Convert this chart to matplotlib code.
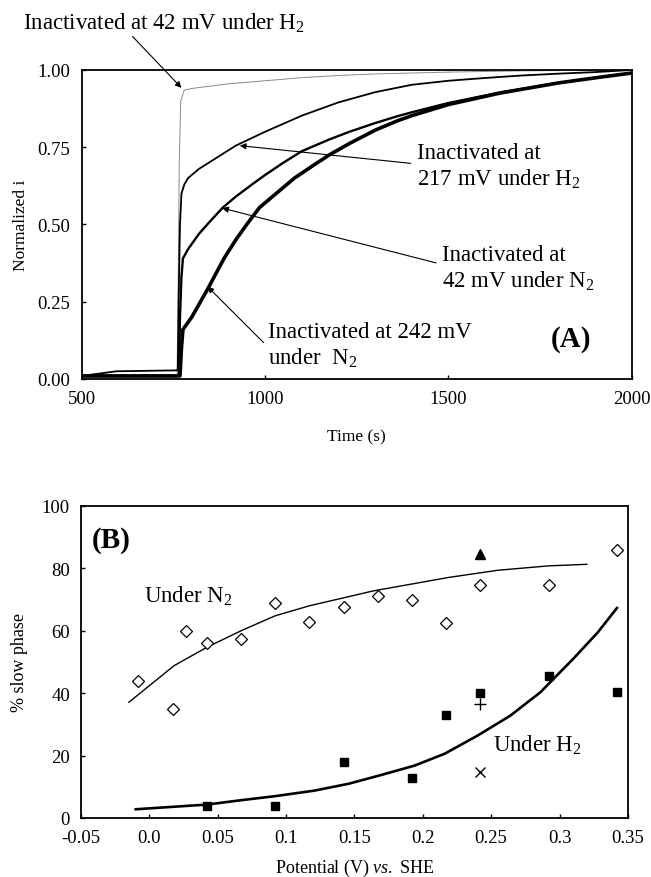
import matplotlib
matplotlib.use("Agg")
import matplotlib.pyplot as plt

plt.rcParams['font.family'] = ['Liberation Serif', 'DejaVu Serif']
plt.rcParams['mathtext.fontset'] = 'custom'
plt.rcParams['mathtext.rm'] = 'Liberation Serif'
plt.rcParams['mathtext.it'] = 'Liberation Serif:italic'
plt.rcParams['mathtext.default'] = 'regular'

# --- panel A: normalized current traces ---
t_h2_42 = [500, 760, 763, 766, 770, 780, 800, 900, 1000, 1100, 1200, 1300, 1400, 1500, 1700, 2000]
i_h2_42 = [0.005, 0.005, 0.3, 0.7, 0.9, 0.935, 0.94, 0.955, 0.965, 0.975, 0.982, 0.987, 0.99, 0.993, 0.997, 1.0]

t_h2_217 = [500, 595, 762, 765, 768, 772, 780, 790, 820, 860, 920, 1000, 1100, 1200, 1300,
            1400, 1500, 1600, 1700, 1800, 1900, 2000]
i_h2_217 = [0.01, 0.025, 0.028, 0.3, 0.5, 0.6, 0.63, 0.65, 0.68, 0.71, 0.755, 0.8, 0.852, 0.895,
            0.928, 0.952, 0.965, 0.974, 0.982, 0.988, 0.993, 1.0]

t_n2_42 = [500, 765, 768, 772, 776, 790, 820, 850, 885, 920, 965, 1000, 1050, 1100, 1175, 1230,
           1300, 1360, 1400, 1500, 1640, 1800, 1910, 2000]
i_n2_42 = [0.01, 0.01, 0.2, 0.33, 0.39, 0.42, 0.47, 0.51, 0.555, 0.59, 0.63, 0.66, 0.70, 0.737,
           0.775, 0.80, 0.828, 0.85, 0.863, 0.893, 0.927, 0.958, 0.976, 0.99]

t_n2_242 = [500, 768, 772, 776, 800, 843, 888, 920, 950, 985, 1030, 1080, 1130, 1175, 1230, 1300,
            1360, 1400, 1500, 1640, 1800, 1910, 2000]
i_n2_242 = [0.01, 0.01, 0.1, 0.16, 0.2, 0.29, 0.39, 0.45, 0.5, 0.555, 0.6, 0.65, 0.69, 0.725,
            0.762, 0.805, 0.835, 0.852, 0.888, 0.925, 0.958, 0.976, 0.99]

# --- panel B: % slow phase vs potential ---
pot_n2 = [-0.008, 0.017, 0.027, 0.042, 0.067, 0.092, 0.117, 0.142, 0.167, 0.192, 0.217, 0.242, 0.292, 0.342]
slow_n2 = [43.8, 34.8, 59.8, 56.0, 57.5, 68.8, 62.8, 67.7, 71.3, 69.9, 62.5, 74.7, 74.7, 85.9]

pot_h2 = [0.042, 0.092, 0.142, 0.192, 0.217, 0.242, 0.292, 0.342]
slow_h2 = [4.0, 4.0, 18.0, 12.9, 32.9, 40.1, 45.6, 40.3]

pot_extra = [0.242]
slow_tri = [84.5]
slow_plus = [36.6]
slow_x = [14.7]

fit_n2_x = [-0.015, 0.018, 0.042, 0.067, 0.092, 0.117, 0.164, 0.219, 0.255, 0.292, 0.320]
fit_n2_y = [37.1, 48.8, 54.7, 60.0, 64.8, 68.0, 72.8, 77.1, 79.4, 80.8, 81.3]

fit_h2_x = [-0.01, 0.042, 0.067, 0.092, 0.121, 0.146, 0.173, 0.194, 0.216, 0.24, 0.264, 0.286, 0.31, 0.328, 0.342]
fit_h2_y = [2.8, 4.3, 5.7, 7.0, 8.8, 11.0, 14.2, 16.8, 20.6, 26.4, 32.8, 40.3, 51.0, 59.5, 67.3]

xticks_b = [-0.05, 0.0, 0.05, 0.1, 0.15, 0.2, 0.25, 0.3, 0.35]
xtick_labels_b = ['-0.05', '0.0', '0.05', '0.1', '0.15', '0.2', '0.25', '0.3', '0.35']

fig = plt.figure(figsize=(6.51, 8.78), dpi=100)
axA = fig.add_axes([0.1255, 0.5672, 0.845, 0.352])
axB = fig.add_axes([0.1245, 0.0672, 0.840, 0.3554])

arrow = dict(arrowstyle='-|>', color='black', lw=0.8, mutation_scale=9, shrinkA=0, shrinkB=0)
txt_size = 16.5
lsp = 1.22

# panel A
axA.plot(t_h2_42, i_h2_42, color='#8a8a8a', lw=0.7)
axA.plot(t_h2_217, i_h2_217, color='black', lw=1.3)
axA.plot(t_n2_42, i_n2_42, color='black', lw=1.7)
axA.plot(t_n2_242, i_n2_242, color='black', lw=2.6)
axA.set_xlim(500, 2000)
axA.set_ylim(0, 1.0)
axA.set_xticks([500, 1000, 1500, 2000])
axA.set_yticks([0, 0.25, 0.5, 0.75, 1.0])
axA.set_yticklabels(['0.00', '0.25', '0.50', '0.75', '1.00'])
axA.set_xlabel('Time (s)', fontsize=12.5, labelpad=15)
axA.set_ylabel('Normalized i', fontsize=12.5, labelpad=6)

axA.annotate('Inactivated at 42 mV under H$_2$', xy=(772, 0.942), xytext=(-0.107, 1.155),
             textcoords='axes fraction', fontsize=txt_size, va='center', ha='left',
             arrowprops=dict(arrow, relpos=(0.38, 0.0)), annotation_clip=False)
axA.annotate('Inactivated at\n217 mV under H$_2$', xy=(931, 0.755), xytext=(1415, 0.69),
             fontsize=txt_size, va='center', ha='left', linespacing=lsp,
             arrowprops=dict(arrow, relpos=(-0.04, 0.55)))
axA.annotate('Inactivated at\n42 mV under N$_2$', xy=(883, 0.553), xytext=(1483, 0.36),
             fontsize=txt_size, va='center', ha='left', linespacing=lsp,
             arrowprops=dict(arrow, relpos=(-0.04, 0.6)))
axA.annotate('Inactivated at 242 mV\nunder  N$_2$', xy=(843, 0.299), xytext=(1007, 0.11),
             fontsize=txt_size, va='center', ha='left', linespacing=lsp,
             arrowprops=dict(arrow, relpos=(-0.02, 0.55)))
axA.text(1780, 0.13, '(A)', fontsize=21, fontweight='bold', va='center', ha='left')

# panel B
axB.plot(fit_n2_x, fit_n2_y, color='black', lw=1.0)
axB.plot(fit_h2_x, fit_h2_y, color='black', lw=1.9)
axB.plot(pot_n2, slow_n2, linestyle='none', marker='D', ms=6.5, mfc='white', mec='black', mew=0.9)
axB.plot(pot_h2, slow_h2, linestyle='none', marker='s', ms=6, mfc='black', mec='black')
axB.plot(pot_extra, slow_tri, linestyle='none', marker='^', ms=7, color='black')
axB.plot(pot_extra, slow_plus, linestyle='none', marker='+', ms=8, mew=1.0, color='black')
axB.plot(pot_extra, slow_x, linestyle='none', marker='x', ms=7, mew=1.0, color='black')
axB.set_xlim(-0.05, 0.35)
axB.set_ylim(0, 100)
axB.set_xticks(xticks_b)
axB.set_xticklabels(xtick_labels_b)
axB.set_yticks([0, 20, 40, 60, 80, 100])
axB.set_xlabel('Potential (V) $\\it{vs.}$ SHE', fontsize=13, labelpad=8)
axB.set_ylabel('% slow phase', fontsize=13, labelpad=10)
axB.text(-0.004, 71.5, 'Under N$_2$', fontsize=txt_size, va='center', ha='left')
axB.text(0.251, 23.5, 'Under H$_2$', fontsize=txt_size, va='center', ha='left')
axB.text(-0.042, 89.4, '(B)', fontsize=21, fontweight='bold', va='center', ha='left')

for ax in (axA, axB):
    for s in ax.spines.values():
        s.set_linewidth(1.3)
    ax.tick_params(labelsize=13.5, length=3, width=1, direction='in', pad=8)

fig.savefig('out.png', dpi=100)
